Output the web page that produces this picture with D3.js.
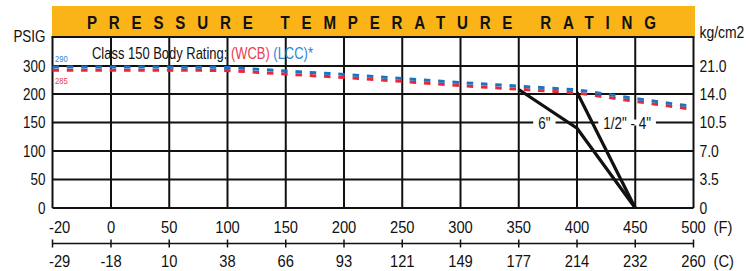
<!DOCTYPE html>
<html lang="en">
<head>
<meta charset="UTF-8">
<title>Pressure Temperature Rating</title>
<script src="https://cdnjs.cloudflare.com/ajax/libs/d3/7.8.5/d3.min.js"></script>
<style>
	body { margin: 0; background: #fff; }
	svg { display: block; }
	text { font-family: "Liberation Sans", Arial, sans-serif; fill: #111; }
</style>
</head>
<body>
<div id="chart"></div>
<script>
	// temperatures (F) and the matching (C) labels
	const tempF = [-20, 0, 50, 100, 150, 200, 250, 300, 350, 400, 450, 500];
	const tempC = [-29, -18, 10, 38, 66, 93, 121, 149, 177, 214, 232, 260];

	// class 150 body rating, psig
	const lccPsig = [296, 296, 296, 295, 282, 270, 255, 241, 228, 215, 192, 178];
	const wcbPsig = [285, 285, 285, 284, 271, 259, 245, 230, 217, 204, 187, 173];

	// seat limits
	const sixInchF = [350, 400, 450];
	const sixInchPsig = [216, 140, 0];
	const smallF = [400, 450];
	const smallPsig = [206, 0];

	const psigTicks = [0, 50, 100, 150, 200, 300];
	const kgTicks = ["0", "3.5", "7.0", "10.5", "14.0", "21.0"];

	const seatLabels = [
		{ text: '6"', t: 372, p: 150 },
		{ text: '1/2" - 4"', t: 443, p: 150 }
	];

	const width = 749, height = 271;
	const plotTop = 37;
	const SQ = 0.84; // no narrow face installed, so squeeze horizontally

	const svg = d3.select("#chart").append("svg")
		.attr("width", width)
		.attr("height", height);

	// -20..0 gets the same room as a 50 degree step
	const x = d3.scaleLinear().domain([-20, 0, 500]).range([52.5, 111, 693.5]);
	// 200..300 squeezed into one grid row
	const y = d3.scaleLinear().domain([0, 200, 300]).range([208, 94, 66]);

	const left = x(-20), right = x(500), bottom = y(0);

	// text placed by transform so it can be condensed
	function label(parent, px, py, str, size, sq = SQ) {
		return parent.append("text")
			.attr("transform", `translate(${px},${py}) scale(${sq},1)`)
			.style("font-size", size + "px")
			.text(str);
	}

	// title band
	svg.append("rect")
		.attr("x", 52).attr("y", 6)
		.attr("width", 643).attr("height", 30)
		.attr("fill", "#fbb417");
	label(svg, 87, 28.5, "PRESSURE TEMPERATURE RATING", 18)
		.attr("textLength", 569 / SQ)
		.attr("lengthAdjust", "spacing")
		.style("font-weight", "bold");

	// grid
	const grid = svg.append("g").attr("stroke", "#111").attr("stroke-width", 2);
	grid.selectAll(".v").data(tempF).enter().append("line")
		.attr("x1", d => x(d)).attr("x2", d => x(d))
		.attr("y1", plotTop).attr("y2", bottom);
	grid.selectAll(".h").data(psigTicks).enter().append("line")
		.attr("x1", left).attr("x2", right)
		.attr("y1", d => y(d)).attr("y2", d => y(d));
	grid.append("line")
		.attr("x1", left - 1).attr("x2", right + 1)
		.attr("y1", plotTop).attr("y2", plotTop);

	// left and right axis labels
	psigTicks.forEach(d => {
		label(svg, left - 7, y(d) + 5.8, d, 16).attr("text-anchor", "end");
	});
	label(svg, left - 7, 41.5, "PSIG", 16).attr("text-anchor", "end");

	kgTicks.forEach((d, i) => {
		label(svg, right + 6, y(psigTicks[i]) + 5.8, d, 16, 0.87);
	});
	label(svg, right + 6, 38, "kg/cm2", 16, 0.87);

	// seat lines
	const line = d3.line().x(d => x(d[0])).y(d => y(d[1]));
	svg.append("path")
		.attr("d", line(d3.zip(sixInchF, sixInchPsig)))
		.attr("fill", "none").attr("stroke", "#111").attr("stroke-width", 3.2);
	svg.append("path")
		.attr("d", line(d3.zip(smallF, smallPsig)))
		.attr("fill", "none").attr("stroke", "#111").attr("stroke-width", 3.2);

	const seat = svg.selectAll(".seat").data(seatLabels).enter().append("g")
		.attr("transform", d => `translate(${x(d.t)},${y(d.p)}) scale(${SQ},1)`);
	seat.append("text")
		.attr("text-anchor", "middle")
		.attr("dy", "0.38em")
		.style("font-size", "16px")
		.text(d => d.text)
		.each(function() {
			const b = this.getBBox();
			d3.select(this.parentNode).insert("rect", "text")
				.attr("x", b.x - 6).attr("y", -3)
				.attr("width", b.width + 12).attr("height", 6)
				.attr("fill", "#fff");
		});

	// body rating lines (dashed, blue over red)
	svg.append("path")
		.attr("d", line(d3.zip(tempF, wcbPsig)))
		.attr("fill", "none").attr("stroke", "#e8273a")
		.attr("stroke-width", 3).attr("stroke-dasharray", "6.5 7.8");
	svg.append("path")
		.attr("d", line(d3.zip(tempF, lccPsig)))
		.attr("fill", "none").attr("stroke", "#1a74c0")
		.attr("stroke-width", 3).attr("stroke-dasharray", "6.5 7.8");

	label(svg, 55, 61.5, "290", 9).style("fill", "#2a86d0");
	label(svg, 55, 83.5, "285", 9).style("fill", "#e8404c");

	const rating = label(svg, 92, 58.5, "", 16, 0.81)
		.style("white-space", "pre");
	rating.append("tspan").text("Class 150 Body Rating: ");
	rating.append("tspan").style("fill", "#e8404c").text("(WCB)");
	rating.append("tspan").style("fill", "#2a86d0").text(" (LCC)*");

	// temperature axis
	const axisY = 243.5;
	svg.append("line")
		.attr("x1", left).attr("x2", right)
		.attr("y1", axisY).attr("y2", axisY)
		.attr("stroke", "#111").attr("stroke-width", 1.5);
	svg.selectAll(".tick").data(tempF).enter().append("line")
		.attr("x1", d => x(d)).attr("x2", d => x(d))
		.attr("y1", axisY - 4).attr("y2", axisY + 4)
		.attr("stroke", "#111").attr("stroke-width", 1.5);

	tempF.forEach((d, i) => {
		const first = i === 0;
		label(svg, first ? x(d) - 3.5 : x(d), 233, d, 16, 0.92)
			.attr("text-anchor", first ? "start" : "middle");
		label(svg, first ? x(d) - 3.5 : x(d), 267, tempC[i], 16, 0.92)
			.attr("text-anchor", first ? "start" : "middle");
	});
	label(svg, right + 20, 233, "(F)", 16, 0.92);
	label(svg, right + 20, 267, "(C)", 16, 0.92);
</script>
</body>
</html>
